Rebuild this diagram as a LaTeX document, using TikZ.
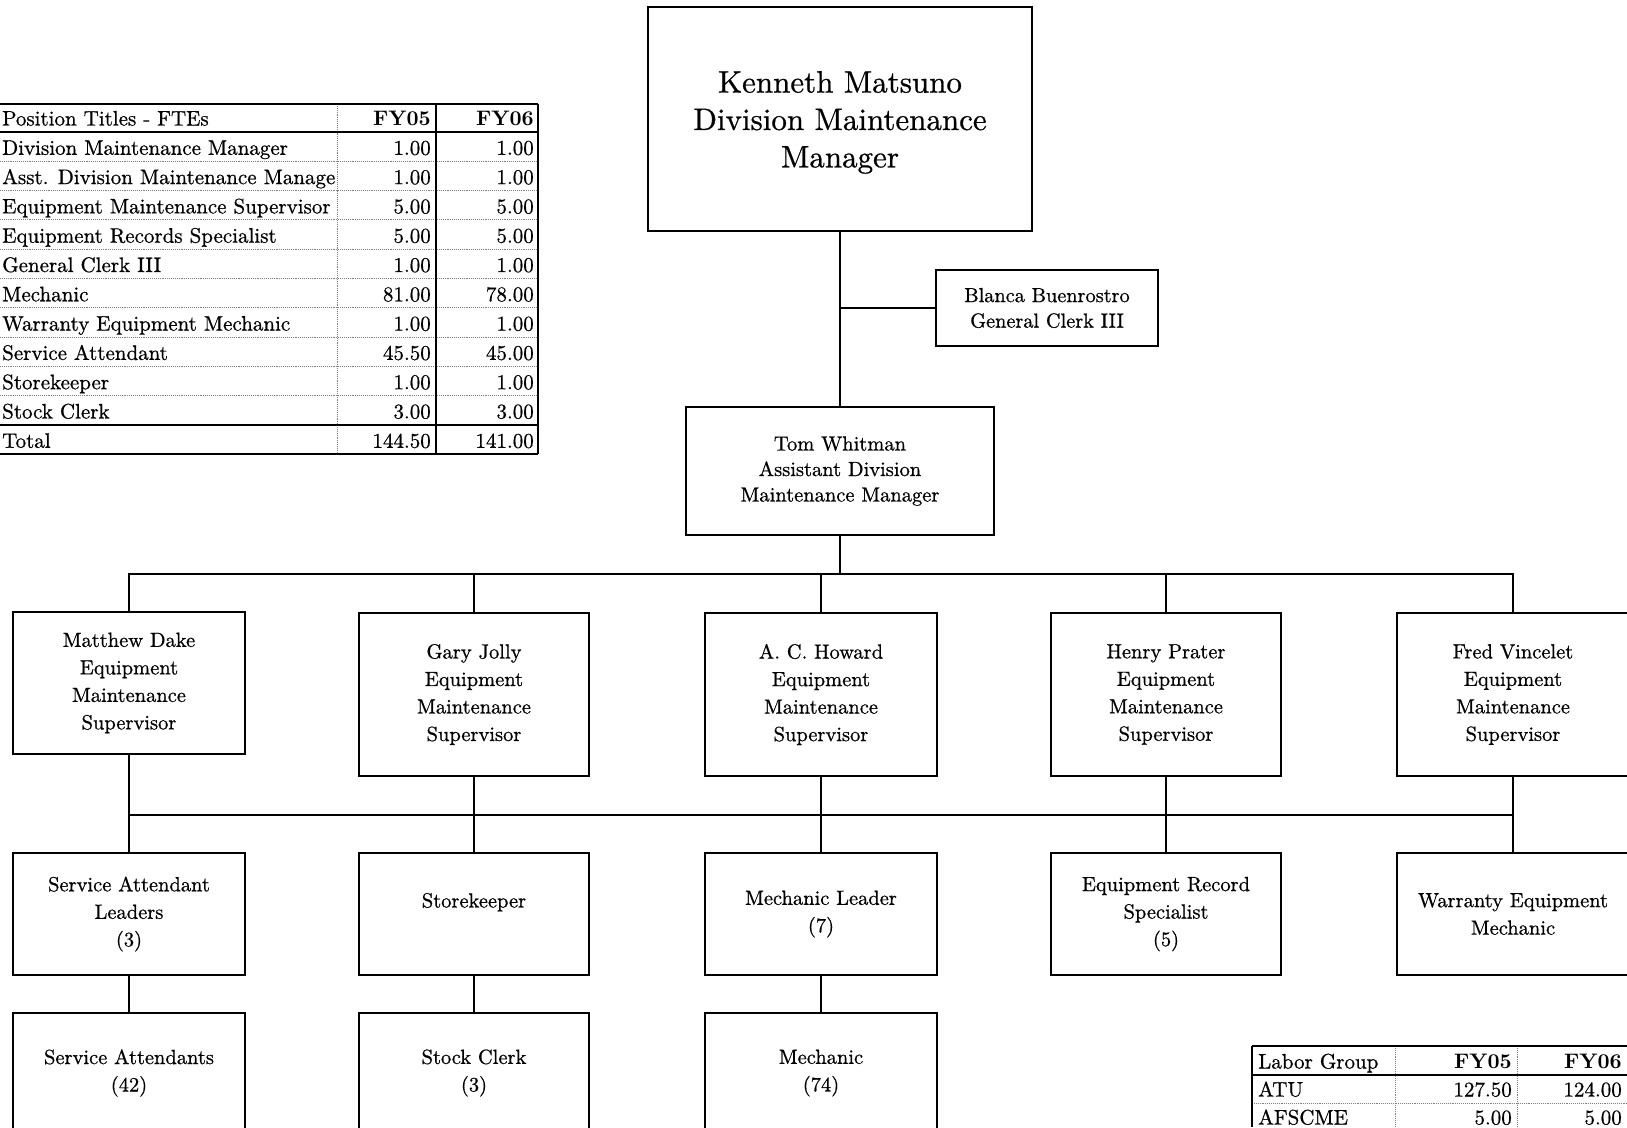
\documentclass[tikz,border=0pt]{standalone}
\usepackage{fontspec}
\setmainfont{lmroman10-regular.otf}[UprightFeatures={FakeBold=0.7}, BoldFont=lmroman10-bold.otf, ItalicFont=lmroman10-italic.otf]
\begin{document}
\begin{tikzpicture}[x=1pt,y=-1pt,
  box/.style={draw, line width=2pt, align=center, inner sep=0pt, font=\fontsize{20.5}{27.5}\selectfont},
  conn/.style={line width=2pt},
  cell/.style={inner sep=0pt, font=\fontsize{21}{25}\selectfont},
  hcell/.style={cell, font=\fontsize{21}{25}\selectfont\bfseries},
  solidrule/.style={line width=2pt},
  dotrule/.style={line width=0.9pt, gray, densely dotted}]
\useasboundingbox (0,0) rectangle (1627,1127);
\clip (0,0) rectangle (1627,1127);

% ---- org chart boxes
\node[box, minimum width=384pt, minimum height=224pt] (ken) at (840,119) {};
\node[align=center, inner sep=0pt, font=\fontsize{31}{37.4}\selectfont] (kent) at (840,122.4) {Kenneth Matsuno\\Division Maintenance\\Manager};
\node[box, minimum width=222pt, minimum height=76pt, font=\fontsize{20.3}{25.5}\selectfont] (blanca) at (1047,308) {Blanca Buenrostro\\General Clerk III};
\node[box, minimum width=308pt, minimum height=128pt, font=\fontsize{20.5}{25.5}\selectfont] (tom) at (840,471) {Tom Whitman\\Assistant Division\\Maintenance Manager};

\node[box, minimum width=232pt, minimum height=142pt] (sup1) at (129,683) {Matthew Dake\\Equipment\\Maintenance\\Supervisor};
\node[box, minimum width=230pt, minimum height=163pt] (sup2) at (474,694.5) {Gary Jolly\\Equipment\\Maintenance\\Supervisor};
\node[box, minimum width=232pt, minimum height=163pt] (sup3) at (821,694.5) {A. C. Howard\\Equipment\\Maintenance\\Supervisor};
\node[box, minimum width=230pt, minimum height=163pt] (sup4) at (1166,694.5) {Henry Prater\\Equipment\\Maintenance\\Supervisor};
\node[box, minimum width=232pt, minimum height=163pt] (sup5) at (1513,694.5) {Fred Vincelet\\Equipment\\Maintenance\\Supervisor};

\node[box, minimum width=232pt, minimum height=122pt] (l31) at (129,914) {Service Attendant\\Leaders\\(3)};
\node[box, minimum width=230pt, minimum height=122pt] (l32) at (474,914) {Storekeeper\\\mbox{}};
\node[box, minimum width=232pt, minimum height=122pt] (l33) at (821,914) {Mechanic Leader\\(7)};
\node[box, minimum width=230pt, minimum height=122pt] (l34) at (1166,914) {Equipment Record\\Specialist\\(5)};
\node[box, minimum width=232pt, minimum height=122pt] (l35) at (1513,914) {Warranty Equipment\\Mechanic};

\node[box, minimum width=232pt, minimum height=120pt] (l41) at (129,1073) {Service Attendants\\(42)};
\node[box, minimum width=230pt, minimum height=120pt] (l42) at (474,1073) {Stock Clerk\\(3)};
\node[box, minimum width=232pt, minimum height=120pt] (l43) at (821,1073) {Mechanic\\(74)};

% ---- connectors
\coordinate (bus1) at (840,574);
\coordinate (bus2) at (840,815);
\draw[conn] (ken.south -| tom.north) -- (tom.north);
\draw[conn] (blanca.west) -- (blanca.west -| tom.north);
\draw[conn] (tom.south) -- (bus1);
\draw[conn] (sup1.north) |- (bus1 -| sup5.north) -- (sup5.north);
\foreach \s in {sup2,sup3,sup4} \draw[conn] (\s.north) -- (\s.north |- bus1);
\foreach \a/\b in {sup1/l31,sup2/l32,sup3/l33,sup4/l34,sup5/l35} \draw[conn] (\a.south) -- (\b.north);
\draw[conn] (bus2 -| l31.north) -- (bus2 -| l35.north);
\foreach \a/\b in {l31/l41,l32/l42,l33/l43} \draw[conn] (\a.south) -- (\b.north);

% ---- position table
\foreach \i in {1,...,9} \draw[dotrule] (0,{132+\i*29.3}) -- (538,{132+\i*29.3});
\draw[dotrule] (337,104) -- (337,454);
\draw[solidrule] (0,104) -- (538,104);
\draw[solidrule] (0,132) -- (538,132);
\draw[solidrule] (0,425) -- (538,425);
\draw[solidrule] (0,454) -- (538,454);
\draw[solidrule] (436,104) -- (436,454);
\draw[solidrule] (538,104) -- (538,454);
\node[cell, anchor=base west] (ph) at (2,125.5) {Position Titles - FTEs};
\node[hcell, anchor=base east] (ph5) at (431,125.5) {FY05};
\node[hcell, anchor=base east] (ph6) at (534,125.5) {FY06};
\foreach \t/\a/\b [count=\i] in {Division Maintenance Manager/1.00/1.00,
  Asst. Division Maintenance Manage/1.00/1.00,
  Equipment Maintenance Supervisor/5.00/5.00,
  Equipment Records Specialist/5.00/5.00,
  General Clerk III/1.00/1.00,
  Mechanic/81.00/78.00,
  Warranty Equipment Mechanic/1.00/1.00,
  Service Attendant/45.50/45.00,
  Storekeeper/1.00/1.00,
  Stock Clerk/3.00/3.00,
  Total/144.50/141.00}{
  \node[cell, anchor=base west] (pa\i) at (2,{132+\i*29.3-6.5}) {\t};
  \node[cell, anchor=base east] (pb\i) at (431,{132+\i*29.3-6.5}) {\a};
  \node[cell, anchor=base east] (pc\i) at (534,{132+\i*29.3-6.5}) {\b};
}

% ---- labor group table
\draw[dotrule] (1252,1103) -- (1627,1103);
\draw[dotrule] (1395,1046) -- (1395,1127);
\draw[dotrule] (1517,1046) -- (1517,1127);
\draw[solidrule] (1252,1046) -- (1627,1046);
\draw[solidrule] (1252,1075) -- (1627,1075);
\draw[solidrule] (1252,1046) -- (1252,1127);
\node[cell, anchor=base west] (lh) at (1258,1068.5) {Labor Group};
\node[hcell, anchor=base east] (lh5) at (1512,1068.5) {FY05};
\node[hcell, anchor=base east] (lh6) at (1622,1068.5) {FY06};
\node[cell, anchor=base west] (la1) at (1258,1096.5) {ATU};
\node[cell, anchor=base east] (lb1) at (1512,1096.5) {127.50};
\node[cell, anchor=base east] (lc1) at (1622,1096.5) {124.00};
\node[cell, anchor=base west] (la2) at (1258,1124.5) {AFSCME};
\node[cell, anchor=base east] (lb2) at (1512,1124.5) {5.00};
\node[cell, anchor=base east] (lc2) at (1622,1124.5) {5.00};
\end{tikzpicture}
\end{document}
